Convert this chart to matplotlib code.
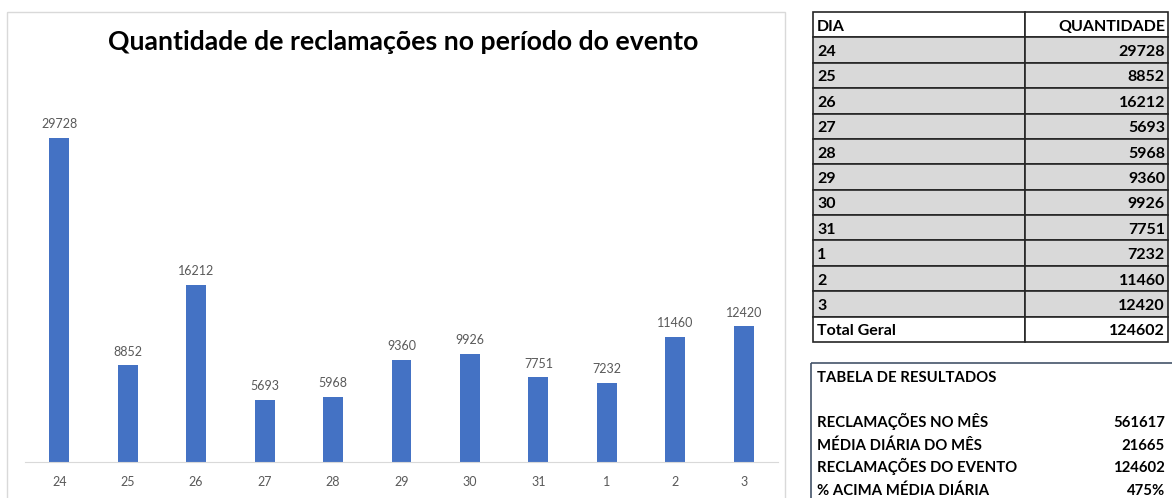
import matplotlib.pyplot as plt
from matplotlib.patches import Rectangle

dias = ['24', '25', '26', '27', '28', '29', '30', '31', '1', '2', '3']
quantidade = [29728, 8852, 16212, 5693, 5968, 9360, 9926, 7751, 7232, 11460, 12420]
total_geral = 124602
resultados_labels = ['RECLAMAÇÕES NO MÊS', 'MÉDIA DIÁRIA DO MÊS',
                     'RECLAMAÇÕES DO EVENTO', '% ACIMA MÉDIA DIÁRIA']
resultados_valores = ['561617', '21665', '124602', '475%']

W, H = 1172, 498
plt.rcParams['font.family'] = ['Lato', 'DejaVu Sans']
fig = plt.figure(figsize=(W / 100, H / 100), dpi=100)


def box(x0, y0, x1, y1):
    # pixel box (top-left origin) -> figure fraction rect
    return [x0 / W, 1 - y1 / H, (x1 - x0) / W, (y1 - y0) / H]


# overlay for frames and tables, pixel coordinates
ov = fig.add_axes([0, 0, 1, 1])
ov.set_xlim(0, W)
ov.set_ylim(H, 0)
ov.axis('off')

# chart frame
ov.add_patch(Rectangle((7, 12), 778, 500, fill=False, ec='#d9d9d9', lw=1))

# bar chart
ax = fig.add_axes(box(25, 80, 778, 462))
x = range(len(dias))
bars = ax.bar(x, quantidade, width=0.29, color='#4472c4')
for b, v in zip(bars, quantidade):
    ax.text(b.get_x() + b.get_width() / 2, v + 700, str(v), ha='center', va='bottom',
            fontsize=9, color='#595959')
ax.set_xlim(-0.5, len(dias) - 0.5)
ax.set_ylim(0, 35000)
ax.set_xticks(list(x))
ax.set_xticklabels(dias, fontsize=9, color='#595959')
ax.tick_params(axis='x', length=0, pad=10)
ax.set_yticks([])
for s in ['top', 'right', 'left']:
    ax.spines[s].set_visible(False)
ax.spines['bottom'].set_color('#d9d9d9')
ax.patch.set_alpha(0)
ov.text(403, 50, 'Quantidade de reclamações no período do evento', ha='center', va='baseline',
        fontsize=19.2, fontweight='bold', color='black')

# table 1
tx0, tx1, tmid = 813, 1168, 1025
ty0 = 12
rh = 330 / 13
rows = [('DIA', 'QUANTIDADE')] + [(d, str(q)) for d, q in zip(dias, quantidade)] + \
       [('Total Geral', str(total_geral))]
for i, (a, b) in enumerate(rows):
    y = ty0 + i * rh
    fc = '#d9d9d9' if 0 < i < len(rows) - 1 else 'white'
    ov.add_patch(Rectangle((tx0, y), tmid - tx0, rh, fc=fc, ec='#262626', lw=1.2))
    ov.add_patch(Rectangle((tmid, y), tx1 - tmid, rh, fc=fc, ec='#262626', lw=1.2))
    ov.text(tx0 + 4, y + rh / 2 + 6, a, ha='left', va='baseline', fontsize=11.5,
            fontweight='bold', color='black')
    ov.text(tx1 - 3, y + rh / 2 + 6, b, ha='right', va='baseline', fontsize=11.5,
            fontweight='bold', color='black')

# table 2
ov.add_patch(Rectangle((811, 363), 370, 150, fill=False, ec='#44546a', lw=1.2))
ov.text(817, 382, 'TABELA DE RESULTADOS', ha='left', va='baseline', fontsize=10.7,
        fontweight='bold', color='black')
for i, (lab, val) in enumerate(zip(resultados_labels, resultados_valores)):
    y = 427 + i * 22.5
    ov.text(817, y, lab, ha='left', va='baseline', fontsize=10.7, fontweight='bold', color='black')
    ov.text(1165, y, val, ha='right', va='baseline', fontsize=10.7, fontweight='bold', color='black')

fig.savefig('out.png', dpi=100)
